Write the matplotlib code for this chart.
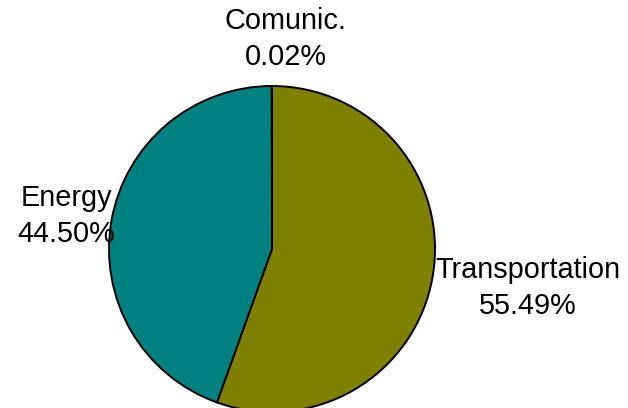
import numpy as np
import matplotlib
matplotlib.use("Agg")
import matplotlib.pyplot as plt

# slice data, clockwise from 12 o'clock
labels = ["Transportation", "Energy", "Comunic."]
shares = [55.49, 44.50, 0.02]
colors = ["#808000", "#008080", "#808000"]

# where each label block sits (angle in deg, distance in radii)
label_angles = [-8.7, 170.9, 86.2]
label_dist = [1.59, 1.28, 1.29]

plt.rcParams['font.family'] = ['Liberation Sans', 'DejaVu Sans']

fig = plt.figure(figsize=(6.28, 4.08), dpi=100)
ax = fig.add_axes([0, 0, 1, 1])

cx, cy, r = 272, 159, 163
wedges, _ = ax.pie(shares, colors=colors, startangle=90, counterclock=False,
                   center=(cx, cy), radius=r, frame=True,
                   wedgeprops=dict(edgecolor='black', linewidth=1.4))
ax.set_xlim(0, 628)
ax.set_ylim(0, 408)
ax.set_aspect('equal')
ax.axis('off')

for lab, val, ang, d in zip(labels, shares, label_angles, label_dist):
    t = np.deg2rad(ang)
    x = cx + d * r * np.cos(t)
    y = cy + d * r * np.sin(t)
    ax.text(x, y, f"{lab}\n{val:.2f}%", ha='center', va='center',
            fontsize=20.8, linespacing=1.38, color='black')

fig.savefig("out.png", dpi=100)
